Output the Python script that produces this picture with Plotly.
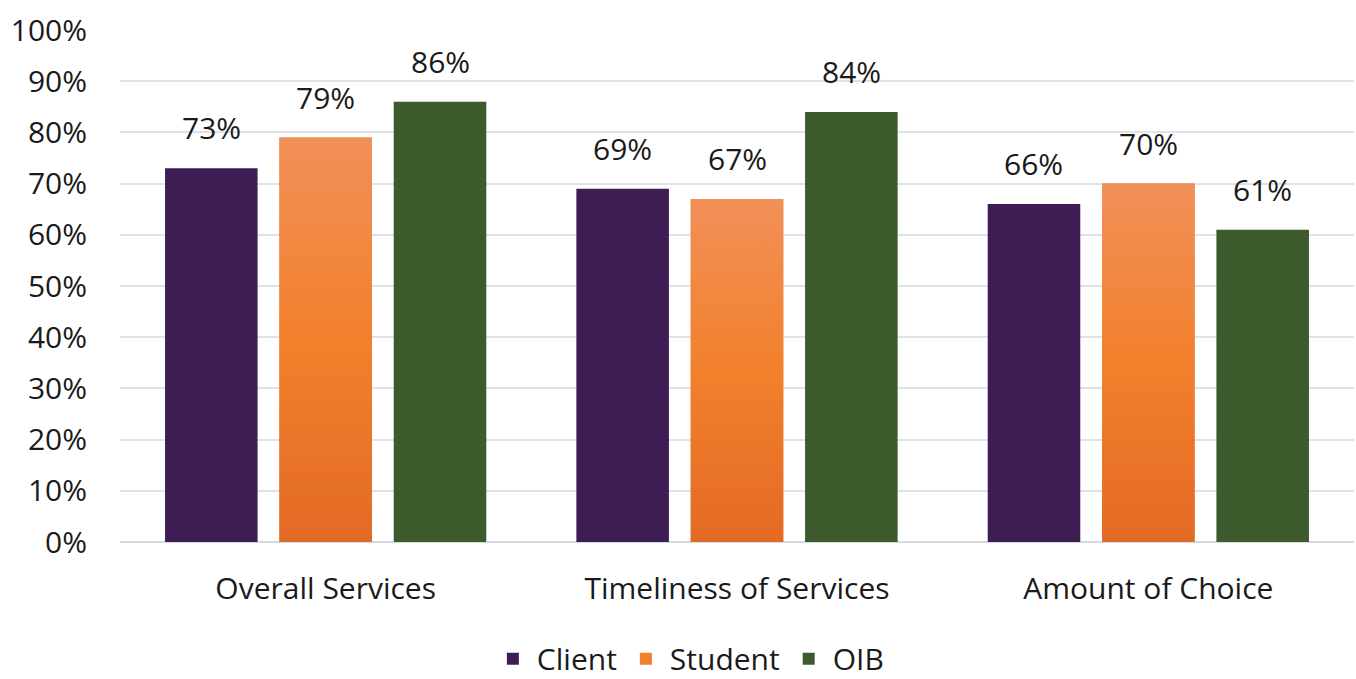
import plotly.graph_objects as go

categories = ["Overall Services", "Timeliness of Services", "Amount of Choice"]
client = [0.73, 0.69, 0.66]
student = [0.79, 0.67, 0.70]
oib = [0.86, 0.84, 0.61]
y_ticks = [0, 0.1, 0.2, 0.3, 0.4, 0.5, 0.6, 0.7, 0.8, 0.9, 1.0]

FONT = "Open Sans"
FONT_SIZE = 30
TEXT_COLOR = "#1a1a1a"
CLIENT_COLOR = "#3E1D55"
STUDENT_COLOR = "#F07F32"
OIB_COLOR = "#3C5A2B"
STUDENT_GRADIENT = [[0, "#E36A25"], [0.5, "#F2802C"], [1, "#F19059"]]
GRID_COLOR = "#DFE3E9"

BAR_W = 0.225
PITCH = 0.278

series = [
    ("Client", client, CLIENT_COLOR, -PITCH),
    ("Student", student, STUDENT_COLOR, 0.0),
    ("OIB", oib, OIB_COLOR, PITCH),
]

xs = list(range(len(categories)))
fig = go.Figure()

for name, vals, color, off in series:
    fig.add_trace(go.Bar(
        x=[i + off for i in xs], y=vals, width=BAR_W, name=name,
        marker=dict(color=color, line=dict(width=0)),
        hoverinfo="y",
    ))

# vertical gradient overlay for the Student bars
for i, v in zip(xs, student):
    x0, x1 = i - BAR_W / 2, i + BAR_W / 2
    fig.add_trace(go.Scatter(
        x=[x0, x1, x1, x0, x0], y=[0, 0, v, v, 0],
        mode="lines", fill="toself", line=dict(width=0),
        fillgradient=dict(type="vertical", colorscale=STUDENT_GRADIENT, start=0, stop=v),
        showlegend=False, hoverinfo="skip",
    ))

# value labels above each bar
for name, vals, color, off in series:
    for i, v in zip(xs, vals):
        fig.add_annotation(
            x=i + off, y=v, text=f"{round(v * 100)}%", showarrow=False,
            xanchor="center", yanchor="bottom", yshift=18,
            font=dict(family=FONT, size=FONT_SIZE, color=TEXT_COLOR),
        )

fig.update_layout(
    width=1356, height=679,
    margin=dict(l=120, r=2, t=30, b=137),
    paper_bgcolor="white", plot_bgcolor="white",
    barmode="overlay",
    font=dict(family=FONT, size=FONT_SIZE, color=TEXT_COLOR),
    legend=dict(orientation="h", x=0.461, xanchor="center",
                yref="container", y=0.03, yanchor="middle",
                font=dict(family=FONT, size=FONT_SIZE, color=TEXT_COLOR),
                itemwidth=38, tracegroupgap=0, itemclick=False),
    showlegend=True,
)
fig.update_xaxes(
    range=[-0.5, 2.5], tickvals=xs, ticktext=categories,
    showgrid=False, zeroline=False, showline=False,
    ticks="", ticklabelstandoff=26, automargin=False,
    tickfont=dict(family=FONT, size=FONT_SIZE, color=TEXT_COLOR),
)
fig.update_yaxes(
    range=[0, 1.0], tickvals=y_ticks, tickformat=".0%",
    showgrid=True, gridcolor=GRID_COLOR, gridwidth=2,
    zeroline=True, zerolinecolor="#D6DAE0", zerolinewidth=2,
    showline=False, ticks="", ticklabelstandoff=32, automargin=False,
    tickfont=dict(family=FONT, size=FONT_SIZE, color=TEXT_COLOR),
)

fig.write_html("out.html")
